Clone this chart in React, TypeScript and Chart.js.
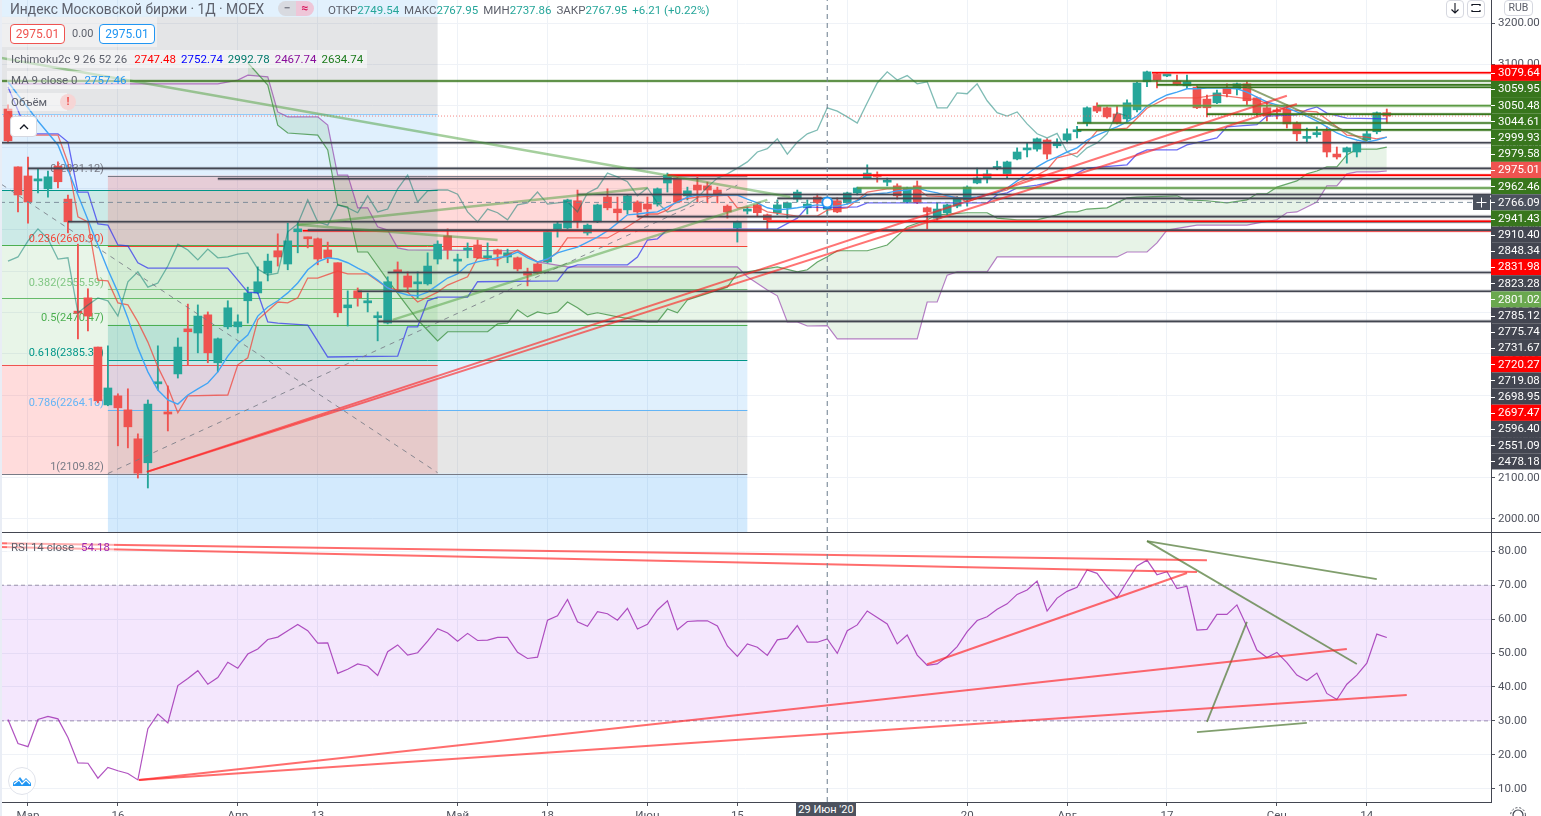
import React, { useEffect, useRef } from "react";
import { Chart, registerables } from "chart.js";

Chart.register(...registerables);

const FONT = "Roboto, sans-serif";
const XMIN = -0.8;
const XMAX = 148.43;

const opens = [2992,2852,2830,2818,2799,2854,2774,2503,2535,2416,2276,2298,2264,2194,2136,2327,2259,2351,2460,2450,2494,2378,2465,2465,2528,2547,2595,2649,2617,2695,2680,2678,2651,2620,2511,2552,2523,2487,2474,2603,2588,2569,2569,2629,2685,2624,2651,2663,2632,2651,2634,2632,2598,2617,2622,2702,2704,2770,2692,2719,2779,2750,2748,2767,2762,2762,2813,2825,2782,2808,2806,2796,2757,2704,2745,2760,2736,2741,2753,2774,2753,2779,2749.54,2770,2765,2789,2825,2832,2815,2806,2767,2806,2753,2728,2741,2757,2772,2813,2825,2848,2835,2871,2893,2895,2917,2903,2917,2937,2958,2999,2995,2980,2968,2990,3058,3077,3072,3060,3048,3045,3016,3007,3043,3041,3053,3019,2995,2987,2992,2958,2921,2930,2939,2883,2888,2888,2917,2937,2983];
const highs = [3002,2852,2876,2847,2842,2864,2784,2665,2557,2416,2419,2303,2315,2206,2288,2419,2322,2438,2520,2518,2501,2438,2528,2494,2561,2610,2641,2690,2716,2719,2682,2680,2670,2620,2552,2559,2547,2501,2586,2622,2598,2598,2644,2673,2702,2641,2668,2675,2668,2653,2653,2634,2607,2620,2697,2719,2774,2796,2714,2762,2799,2779,2784,2770,2779,2801,2837,2830,2803,2828,2815,2803,2760,2721,2755,2762,2738,2772,2767,2796,2772,2786,2767.95,2777,2791,2803,2857,2840,2825,2811,2803,2818,2755,2765,2762,2780,2806,2849,2845,2866,2866,2898,2910,2922,2920,2920,2944,2950,2997,3007,2997,2999,3014,3057,3084,3079,3075,3074,3074,3048,3026,3038,3053,3055,3058,3021,3009,2995,3002,2961,2946,2949,2949,2900,2900,2912,2939,2985,2992];
const lows = [2910,2743,2716,2789,2779,2801,2692,2436,2455,2281,2274,2177,2172,2099,2075,2312,2213,2341,2373,2402,2378,2356,2460,2450,2474,2545,2576,2612,2603,2644,2656,2615,2620,2489,2467,2515,2501,2431,2472,2554,2549,2535,2566,2617,2629,2598,2632,2630,2627,2612,2620,2600,2564,2593,2620,2682,2702,2704,2687,2717,2748,2721,2738,2731,2733,2757,2791,2765,2772,2767,2765,2765,2728,2670,2738,2733,2702,2736,2728,2767,2738,2745,2737.86,2741,2762,2784,2823,2815,2806,2774,2765,2763,2702,2723,2736,2753,2757,2811,2813,2845,2825,2869,2876,2890,2871,2898,2910,2922,2951,2983,2970,2956,2960,2985,3046,3043,3070,3050,3041,2993,2973,3005,3021,3026,3002,2975,2963,2968,2946,2915,2910,2924,2876,2871,2861,2876,2915,2932,2958];
const closes = [2915,2784,2767,2823,2828,2816,2719,2498,2491,2286,2317,2269,2223,2111,2278,2332,2254,2416,2453,2491,2402,2436,2511,2477,2547,2574,2624,2634,2673,2702,2678,2629,2632,2499,2518,2535,2528,2491,2574,2598,2561,2571,2612,2665,2651,2627,2653,2632,2634,2641,2644,2605,2590,2595,2695,2714,2772,2719,2711,2760,2753,2741,2782,2743,2750,2799,2832,2767,2794,2796,2796,2786,2743,2719,2750,2741,2724,2760,2765,2791,2762,2765,2767.95,2743,2789,2801,2837,2828,2816,2782,2801,2765,2743,2750,2760,2777,2803,2825,2835,2849,2864,2888,2896,2920,2883,2912,2932,2941,2995,2987,2973,2958,3007,3055,3082,3062,3073,3053,3058,2995,2995,3031,3029,3053,3012,2983,2975,2985,2956,2932,2922,2933,2888,2876,2898,2910,2932,2983,2975.01];

const maValues = [3058,3026,2995,2963,2934,2905,2845,2784,2724,2663,2603,2549,2486,2414,2356,2312,2288,2278,2300,2315,2329,2356,2394,2424,2445,2491,2513,2528,2547,2571,2603,2622,2632,2629,2620,2607,2595,2578,2559,2549,2542,2540,2549,2566,2583,2593,2615,2622,2627,2632,2636,2646,2632,2622,2629,2644,2651,2658,2670,2682,2697,2716,2736,2738,2741,2743,2755,2767,2779,2784,2784,2784,2784,2784,2774,2765,2753,2748,2750,2753,2757,2760,2757.46,2757,2762,2770,2784,2787,2789,2794,2796,2801,2794,2789,2782,2777,2777,2779,2784,2789,2801,2818,2835,2852,2866,2876,2888,2898,2917,2929,2939,2949,2961,2975,2999,3014,3026,3033,3041,3041,3043,3043,3043,3041,3033,3021,3009,3002,2995,2985,2975,2963,2949,2934,2924,2917,2912,2917,2924];

const tenkanBars = [0,2,5,6,7,8,9,10,11,12,13,14,15,16,17,18,22,23,24,25,27,28,29,30,31,33,34,36,38,40,41,43,44,46,47,49,51,53,54,55,56,60,62,64,65,66,67,69,72,73,75,76,79,81,82,84,85,86,88,91,92,95,96,98,100,101,103,104,105,107,108,109,112,114,116,119,121,125,128,131,133,134,136,137,138];
const tenkanValues = [2985,2929,2929,2862,2731,2719,2578,2576,2523,2518,2477,2428,2368,2319,2257,2298,2300,2373,2390,2482,2525,2523,2535,2583,2583,2600,2593,2593,2559,2549,2525,2549,2566,2586,2632,2627,2651,2622,2627,2646,2680,2680,2707,2738,2738,2748,2772,2779,2784,2753,2755,2743,2733,2733,2747.48,2753,2772,2791,2799,2799,2782,2779,2767,2784,2796,2813,2832,2845,2874,2886,2910,2939,2946,2994,3019,3019,3026,3014,2990,2985,2949,2929,2924,2920,2924];

const kijunBars = [0,2,5,6,7,8,9,10,11,12,13,14,22,24,25,26,27,30,32,39,40,41,42,43,46,47,55,56,57,62,63,64,65,66,77,79,80,82,85,86,98,99,100,101,103,104,106,108,112,113,114,117,118,121,122,125,126,129,130,131,132,134,138];
const kijunValues = [3045,2932,2932,2912,2791,2791,2714,2711,2663,2661,2620,2607,2607,2549,2547,2477,2474,2469,2392,2394,2465,2465,2528,2537,2537,2574,2576,2607,2615,2615,2634,2675,2678,2700,2702,2728,2755,2752.74,2755,2765,2765,2784,2789,2801,2808,2813,2825,2849,2857,2883,2893,2893,2905,2922,2949,2954,2975,2978,2990,2997,2982,2970,2968];

const spanABars = [24,26,27,28,31,32,33,34,35,36,38,41,43,44,48,49,50,51,52,53,54,55,56,57,58,59,61,63,64,65,66,67,68,72,73,74,77,79,80,81,82,83,86,88,90,92,93,96,98,99,101,103,105,106,107,108,110,112,113,117,118,120,122,124,125,126,127,129,130,131,132,133,134,135,137,138];
const spanAValues = [3104,3050,2953,2934,2929,2893,2760,2755,2646,2646,2578,2482,2431,2453,2453,2472,2474,2506,2489,2501,2496,2501,2525,2511,2494,2499,2489,2482,2477,2477,2508,2499,2530,2561,2595,2598,2610,2598,2603,2622,2634.74,2649,2649,2663,2707,2724,2736,2741,2741,2728,2724,2724,2736,2743,2743,2750,2753,2777,2779,2782,2772,2770,2765,2772,2787,2787,2803,2818,2835,2842,2852,2852,2881,2895,2895,2900];

const spanBBars = [0,21,23,24,26,27,28,31,32,33,34,35,36,37,38,39,40,51,53,56,73,74,76,77,78,79,80,82,83,91,92,93,94,95,98,99,111,112,114,115,116,119,124,125,127,128,129,131,132,133,134,135,137,138];
const spanBValues = [3053,3053,3062,3074,3070,2985,2973,2973,2953,2832,2832,2753,2753,2707,2699,2656,2651,2649,2622,2610,2610,2586,2554,2540,2477,2477,2467,2467.74,2436,2436,2525,2525,2590,2598,2598,2634,2634,2646,2646,2668,2699,2711,2711,2716,2724,2741,2743,2767,2806,2806,2835,2840,2840,2842];

const rsiValues = [30.4,23.3,22.4,30.4,31.3,30.6,25.1,17.6,17.5,13.1,16.3,15.3,14.5,12.6,27.7,32.0,29.4,40.4,42.5,44.8,40.8,42.8,47.3,45.5,49.7,51.2,54.0,54.7,56.6,58.4,56.6,52.9,53.0,44.0,45.2,46.8,46.1,43.4,50.4,52.4,49.4,50.1,53.5,57.2,55.9,53.5,55.8,53.7,53.8,54.6,54.6,50.2,48.4,48.8,59.7,61.0,65.8,59.2,57.9,62.2,61.6,59.7,63.2,57.1,58.5,62.7,65.4,56.9,59.3,59.5,59.5,58.0,52.1,49.0,52.7,51.7,49.3,53.9,54.4,58.1,53.2,53.2,54.18,49.9,56.6,58.3,62.4,60.5,58.6,52.7,55.3,49.4,46.4,46.8,49.0,51.9,56.3,59.6,60.7,62.9,64.5,67.3,68.6,71.2,62.4,66.2,68.2,69.4,74.5,73.5,69.6,66.3,71.1,75.7,77.4,73.1,74.0,69.0,69.7,56.8,57.0,61.4,61.4,64.2,57.8,50.9,48.7,50.2,47.2,43.5,41.9,44.1,38.1,36.3,40.8,43.5,47.0,55.6,54.6];

const tickBars = [2,11,23,31,45,54,64,73,84,96,106,116,127,136];
const tickLabels = ["Мар","16","Апр","13","Май","18","Июн","15","","20","Авг","17","Сен","14"];

// horizontal drawings: price, first bar, colour group
const levelPrices = [3079.64,3059.95,3050.48,3044.61,2999.93,2979.58,2958,2941.43,2910.4,2848.34,2831.98,2823.28,2801.02,2785.12,2775.74,2731.67,2720.27,2719.08,2698.95,2697.47,2596.4,2551.09,2478.18];
const levelStarts = [114.5,-0.8,115,119,109,120,107,107,-0.8,2,66,21,85,57,77,63,76,6,30,29.5,38,35,37];
const levelKinds = ["red","green","green","green","lime","green","green","green","dark","dark","red","dark","lime","dark","dark","dark","red","dark","dark","red","dark","dark","dark"];

const badgeTexts = ["3079.64","3059.95","3050.48","3044.61","2999.93","2979.58","2975.01","2962.46","2766.09","2941.43","2910.40","2848.34","2831.98","2823.28","2801.02","2785.12","2775.74","2731.67","2720.27","2719.08","2698.95","2697.47","2596.40","2551.09","2478.18"];
const badgeKinds = ["red","green","green","green","green","green","last","green","cross","green","dark","dark","red","dark","lime","dark","dark","dark","red","dark","dark","red","dark","dark","dark"];

// [bar, price, bar, price]
const redTrends = [[13.9,2114,128,3024],[13.9,2114,129,3004]];
const greenTrends = [[-0.8,3116,78.3,2779],[29,2712,49,2675],[29,2712,64,2801],[38.5,2482,76,2772]];
const oliveTrends = [[124,3045,136,2915]];
const dashedTrends = [[-0.6,2809,43,2112],[10,2110,73,2808]];

const rsiRedTrends = [[-0.8,82.4,120,77.4],[-0.8,81.3,119,73.9],[13.1,12.6,134,51.2],[13.1,12.6,140,37.6],[92,46.7,118,73.6]];
const rsiGreenTrends = [[114,83,137,71.8],[114,83,135,46.8],[120,29.7,124,59.2],[119,26.7,130,29.4]];

// fib retracement on the right, drawn between bars 10 and 74
const fibPrices = [2831.12,2660.9,2555.59,2470.47,2385.35,2264.18,2109.82];
const fibTexts = ["0(2831.12)","0.236(2660.90)","0.382(2555.59)","0.5(2470.47)","0.618(2385.35)","0.786(2264.18)","1(2109.82)"];
const fibColors = ["#787b86","#f44336","#81c784","#4caf50","#009688","#64b5f6","#787b86"];
const fibFills = ["rgba(255,82,82,0.22)","rgba(76,175,80,0.13)","rgba(76,175,80,0.13)","rgba(0,150,136,0.2)","rgba(33,150,243,0.14)","rgba(128,128,128,0.2)"];
const fibBelowPrice = 1968.5;
const fibBelowFill = "rgba(33,150,243,0.2)";

// second fib on the left, bars -0.6 to 43
const leftPrices = [3256,3215,2980,2796,2663,2373,2109];
const leftFills = ["rgba(33,150,243,0.13)","rgba(120,123,134,0.2)","rgba(33,150,243,0.14)","rgba(0,150,136,0.2)","rgba(76,175,80,0.13)","rgba(255,82,82,0.2)"];
const leftLinePrices = [2980,2796,2663,2535,2373,2109];
const leftLineColors = ["#90caf9","#009688","#4caf50","#66bb6a","#ef5350","#787b86"];

const zip = (xs: number[], ys: number[]) => xs.map((x, i) => ({ x, y: ys[i] }));
const allBars = closes.map((_, i) => i);

const line = (data: any[], color: string, width = 1, extra: any = {}) => ({
  type: "line", data, borderColor: color, borderWidth: width, pointRadius: 0, tension: 0, fill: false, order: 5, ...extra,
});
const seg = (t: number[], color: string, width: number, extra: any = {}) =>
  line([{ x: t[0], y: t[1] }, { x: t[2], y: t[3] }], color, width, extra);

const levelCore: Record<string, string> = { red: "#ff0000", green: "#38761d", lime: "#5c9a44", dark: "#434651" };
const levelHalo: Record<string, string> = { red: "rgba(255,120,120,0.35)", green: "rgba(56,118,29,0.2)", lime: "rgba(106,168,79,0.35)", dark: "rgba(67,70,81,0.22)" };
const badgeFill: Record<string, string> = { red: "#ff0000", green: "#38761d", lime: "#6aa84f", dark: "#434651", last: "#ef5350", cross: "#4c525e" };

const noPad = (s: any) => { s.paddingTop = 0; s.paddingBottom = 0; s.paddingLeft = 0; s.paddingRight = 0; };

const xScaleBase = {
  type: "linear", min: XMIN, max: XMAX, offset: false,
  afterBuildTicks: (s: any) => { s.ticks = tickBars.map((value) => ({ value })); },
};

const pricePlugin = {
  id: "priceDrawings",
  beforeDatasetsDraw(chart: any) {
    const { ctx, scales: { x, y } } = chart;
    ctx.save();
    const rect = (b0: number, b1: number, p0: number, p1: number, c: string) => {
      ctx.fillStyle = c;
      ctx.fillRect(x.getPixelForValue(b0), y.getPixelForValue(p0), x.getPixelForValue(b1) - x.getPixelForValue(b0), y.getPixelForValue(p1) - y.getPixelForValue(p0));
    };
    leftFills.forEach((c, i) => rect(-0.6, 43, leftPrices[i], leftPrices[i + 1], c));
    fibFills.forEach((c, i) => rect(10, 74, fibPrices[i], fibPrices[i + 1], c));
    rect(10, 74, fibPrices[6], fibBelowPrice, fibBelowFill);
    const hline = (b0: number, b1: number, p: number, c: string) => {
      ctx.strokeStyle = c; ctx.lineWidth = 1; ctx.beginPath();
      const py = Math.round(y.getPixelForValue(p)) + 0.5;
      ctx.moveTo(x.getPixelForValue(b0), py); ctx.lineTo(x.getPixelForValue(b1), py); ctx.stroke();
    };
    leftLinePrices.forEach((p, i) => hline(-0.6, 43, p, leftLineColors[i]));
    fibPrices.forEach((p, i) => hline(10, 74, p, fibColors[i]));
    ctx.font = `11px ${FONT}`; ctx.textAlign = "right"; ctx.textBaseline = "bottom";
    fibPrices.forEach((p, i) => {
      ctx.fillStyle = fibColors[i];
      ctx.fillText(fibTexts[i], x.getPixelForValue(9.6), y.getPixelForValue(p) - 1);
    });
    ctx.restore();
  },
  afterDraw(chart: any) {
    const { ctx, scales: { y } } = chart;
    const axisX = y.left;
    const first = y.getPixelForValue(3079.64);
    const rowH = 16.19;
    ctx.save();
    ctx.font = `11.5px ${FONT}`; ctx.textBaseline = "middle"; ctx.textAlign = "left";
    badgeTexts.forEach((t, i) => {
      const cy = first + i * rowH;
      ctx.fillStyle = badgeFill[badgeKinds[i]];
      ctx.fillRect(axisX, cy - rowH / 2, 1541 - axisX, rowH);
      ctx.fillStyle = "#ffffff";
      ctx.fillRect(axisX, Math.round(cy), 4, 1);
      ctx.fillText(t, axisX + 7, cy + 0.5);
    });
    ctx.restore();
  },
};

const priceDatasets = () => {
  const ds: any[] = [];
  ds.push(line(zip(spanABars, spanAValues), "rgba(56,142,60,0.75)", 1.2, {
    order: 30, fill: { target: "+1", above: "rgba(67,160,71,0.13)", below: "rgba(67,160,71,0.13)" },
  }));
  ds.push(line(zip(spanBBars, spanBValues), "rgba(142,36,170,0.6)", 1.2, { order: 30 }));
  ds.push({
    type: "bar", grouped: false, order: 20, barThickness: 1.2,
    data: allBars.map((i) => ({ x: i, y: [lows[i], highs[i]] })),
    backgroundColor: allBars.map((i) => (closes[i] >= opens[i] ? "#26a69a" : "#ef5350")),
  });
  ds.push({
    type: "bar", grouped: false, order: 19, barThickness: 8, minBarLength: 2, borderSkipped: false,
    data: allBars.map((i) => ({ x: i, y: [opens[i], closes[i]] })),
    backgroundColor: allBars.map((i) => (closes[i] >= opens[i] ? "#26a69a" : "#ef5350")),
  });
  ds.push(line(closes.slice(26).map((y, x) => ({ x, y })), "rgba(0,121,107,0.5)", 1.3, { order: 15 }));
  ds.push(line(zip(kijunBars, kijunValues), "rgba(50,50,240,0.72)", 1.3, { order: 14 }));
  ds.push(line(zip(tenkanBars, tenkanValues), "rgba(240,70,60,0.75)", 1.3, { order: 13 }));
  ds.push(line(zip(allBars, maValues), "#42a5f5", 1.4, { order: 12 }));
  dashedTrends.forEach((t) => ds.push(seg(t, "rgba(120,123,134,0.85)", 1, { order: 11, borderDash: [5, 5] })));
  ds.push(line([{ x: XMIN, y: 2975.01 }, { x: XMAX, y: 2975.01 }], "rgba(239,83,80,0.7)", 1, { order: 11, borderDash: [1, 2] }));
  levelPrices.forEach((p, i) => {
    const pts = [{ x: levelStarts[i], y: p }, { x: XMAX, y: p }];
    ds.push(line(pts, levelHalo[levelKinds[i]], 3.5, { order: 10 }));
    ds.push(line(pts, levelCore[levelKinds[i]], 1.6, { order: 9 }));
  });
  greenTrends.forEach((t) => ds.push(seg(t, "rgba(76,160,60,0.5)", 2.4, { order: 8 })));
  oliveTrends.forEach((t) => ds.push(seg(t, "rgba(95,125,55,0.7)", 2, { order: 8 })));
  redTrends.forEach((t) => ds.push(seg(t, "rgba(255,30,30,0.62)", 2, { order: 7 })));
  ds.push(line([{ x: XMIN, y: 2766.09 }, { x: XMAX, y: 2766.09 }], "rgba(117,134,150,0.9)", 1, { order: 6, borderDash: [5, 4] }));
  ds.push(line([{ x: 82, y: 1968.5 }, { x: 82, y: 3255.8 }], "rgba(117,134,150,0.9)", 1.2, { order: 6, borderDash: [5, 4] }));
  ds.push({
    type: "line", order: 1, showLine: false, data: [{ x: 82, y: 2766.09 }],
    pointRadius: 5, pointBackgroundColor: "#ffffff", pointBorderColor: "#2196f3", pointBorderWidth: 2,
  });
  return ds;
};

const rsiDatasets = () => {
  const ds: any[] = [];
  ds.push(line([{ x: XMIN, y: 70 }, { x: XMAX, y: 70 }], "rgba(120,110,140,0.7)", 1, {
    order: 30, borderDash: [4, 3], fill: { target: "+1", above: "rgba(156,39,240,0.11)", below: "rgba(156,39,240,0.11)" },
  }));
  ds.push(line([{ x: XMIN, y: 30 }, { x: XMAX, y: 30 }], "rgba(120,110,140,0.7)", 1, { order: 30, borderDash: [4, 3] }));
  ds.push(line(zip(allBars, rsiValues), "rgba(156,39,176,0.8)", 1.2, { order: 10 }));
  rsiRedTrends.forEach((t) => ds.push(seg(t, "rgba(255,30,30,0.65)", 2, { order: 8 })));
  rsiGreenTrends.forEach((t) => ds.push(seg(t, "rgba(85,125,60,0.75)", 1.8, { order: 8 })));
  ds.push(line([{ x: 82, y: 6.08 }, { x: 82, y: 85.4 }], "rgba(117,134,150,0.9)", 1.2, { order: 6, borderDash: [5, 4] }));
  return ds;
};

const yTicks = { color: "#50535e", font: { family: FONT, size: 11.5 }, padding: 3, autoSkip: false, includeBounds: false };

export default function App() {
  const topRef = useRef<HTMLCanvasElement>(null);
  const botRef = useRef<HTMLCanvasElement>(null);

  useEffect(() => {
    const common = {
      responsive: false, animation: false, events: [],
      layout: { padding: 0, autoPadding: false },
      plugins: { legend: { display: false }, tooltip: { enabled: false } },
    };
    const top = new Chart(topRef.current as any, {
      type: "line",
      data: { datasets: priceDatasets() },
      options: {
        ...common,
        scales: {
          x: {
            ...xScaleBase,
            afterFit: (s: any) => { s.height = 0; noPad(s); },
            ticks: { display: false },
            grid: { color: "#eef2f7", drawTicks: false, offset: false },
            border: { display: false },
          },
          y: {
            position: "right", min: 1968.5, max: 3255.8, beginAtZero: false,
            afterFit: (s: any) => { s.width = 50; noPad(s); },
            ticks: { ...yTicks, stepSize: 100, callback: (v: any) => Number(v).toFixed(2) },
            grid: { color: "#eff2f7", tickLength: 4, tickColor: "#50535e" },
            border: { color: "#434651" },
          },
        },
      },
      plugins: [pricePlugin],
    } as any);
    const bot = new Chart(botRef.current as any, {
      type: "line",
      data: { datasets: rsiDatasets() },
      options: {
        ...common,
        scales: {
          x: {
            ...xScaleBase,
            afterFit: (s: any) => { s.height = 14; noPad(s); },
            ticks: {
              color: "#50535e", font: { family: FONT, size: 11.5 }, padding: 3, autoSkip: false, maxRotation: 0,
              callback: (v: any) => tickLabels[tickBars.indexOf(v)] ?? "",
            },
            grid: { color: "#eef2f7", tickLength: 4, tickColor: "#50535e", offset: false },
            border: { color: "#434651" },
          },
          y: {
            position: "right", min: 6.08, max: 85.4, beginAtZero: false,
            afterFit: (s: any) => { s.width = 50; noPad(s); },
            ticks: { ...yTicks, stepSize: 10, callback: (v: any) => Number(v).toFixed(2) },
            grid: { color: "#eff2f7", tickLength: 4, tickColor: "#50535e" },
            border: { color: "#434651" },
          },
        },
      },
    } as any);
    return () => { top.destroy(); bot.destroy(); };
  }, []);

  const txt: React.CSSProperties = { position: "absolute", font: `11.5px ${FONT}`, color: "#5d606b", whiteSpace: "nowrap", lineHeight: "16px" };
  const val = (c: string, s: string, ml = 0) => <span style={{ color: c, marginLeft: ml }}>{s}</span>;
  const btn: React.CSSProperties = { position: "absolute", background: "#fff", border: "1px solid #d6d8e0", borderRadius: 4, boxSizing: "border-box", textAlign: "center", color: "#434651", font: `12px ${FONT}` };

  return (
    <div style={{ position: "absolute", left: 0, top: 0, width: 1541, height: 816, overflow: "hidden", background: "#fff" }}>
      <style>{"html,body{margin:0;padding:0;overflow:hidden;background:#fff}"}</style>
      <canvas ref={topRef} width={1541} height={532} style={{ position: "absolute", left: 0, top: 0, filter: "blur(0.35px)" }} />
      <canvas ref={botRef} width={1541} height={283} style={{ position: "absolute", left: 0, top: 533, filter: "blur(0.35px)" }} />
      <div style={{ position: "absolute", left: 0, top: 532, width: 1541, height: 1, background: "#434651" }} />
      <div style={{ position: "absolute", left: 0, top: 0, width: 2, height: 816, background: "#e9edf5" }} />

      <div style={{ ...txt, left: 10, top: 1, font: `13.8px ${FONT}`, lineHeight: "17px" }}>Индекс Московской биржи · 1Д · MOEX</div>
      <div style={{ position: "absolute", left: 278, top: 1, width: 18, height: 15, background: "#d8dae0", borderRadius: "8px 0 0 8px", textAlign: "center", font: `bold 12px ${FONT}`, color: "#787b86", lineHeight: "14px" }}>−</div>
      <div style={{ position: "absolute", left: 296, top: 1, width: 18, height: 15, background: "#eec6d8", borderRadius: "0 8px 8px 0", textAlign: "center", font: `bold 12px ${FONT}`, color: "#d81b60", lineHeight: "14px" }}>≈</div>
      <div style={{ ...txt, left: 328, top: 2 }}>
        ОТКР{val("#26a69a", "2749.54")}<span style={{ marginLeft: 5 }}>МАКС</span>{val("#26a69a", "2767.95")}<span style={{ marginLeft: 5 }}>МИН</span>{val("#26a69a", "2737.86")}<span style={{ marginLeft: 5 }}>ЗАКР</span>{val("#26a69a", "2767.95")}{val("#26a69a", "+6.21 (+0.22%)", 5)}
      </div>

      <div style={{ position: "absolute", left: 2, top: 17, width: 155, height: 30, background: "rgba(255,255,255,0.4)" }} />
      <div style={{ ...btn, left: 10, top: 24, width: 55, height: 20, border: "1px solid #ef5350", color: "#ef5350", lineHeight: "18px" }}>2975.01</div>
      <div style={{ ...txt, left: 72, top: 26, fontSize: 11 }}>0.00</div>
      <div style={{ ...btn, left: 99, top: 24, width: 56, height: 20, border: "1px solid #2196f3", color: "#2196f3", lineHeight: "18px" }}>2975.01</div>

      <div style={{ ...txt, left: 7, top: 50, padding: "1px 4px", background: "rgba(255,255,255,0.5)" }}>
        Ichimoku2c 9 26 52 26{val("#ff0000", "2747.48", 7)}{val("#0000ff", "2752.74", 5)}{val("#00796b", "2992.78", 5)}{val("#880e9b", "2467.74", 5)}{val("#1b7a1b", "2634.74", 5)}
      </div>
      <div style={{ ...txt, left: 7, top: 71, padding: "1px 4px", background: "rgba(255,255,255,0.5)" }}>
        MA 9 close 0{val("#2196f3", "2757.46", 7)}
      </div>
      <div style={{ ...txt, left: 7, top: 93, padding: "1px 20px 1px 4px", background: "rgba(255,255,255,0.5)" }}>Объём</div>
      <div style={{ position: "absolute", left: 60, top: 94, width: 16, height: 16, borderRadius: 8, background: "#f6d5d5", color: "#ef5350", textAlign: "center", font: `bold 11px ${FONT}`, lineHeight: "16px" }}>!</div>
      <div style={{ ...btn, left: 10, top: 116, width: 27, height: 21, lineHeight: "20px" }}>
        <svg width="12" height="8" viewBox="0 0 12 8"><path d="M2 6 L6 2 L10 6" fill="none" stroke="#131722" strokeWidth="1.3" /></svg>
      </div>

      <div style={{ ...btn, left: 1446, top: 0, width: 18, height: 18 }}>
        <svg width="12" height="14" viewBox="0 0 12 14"><path d="M6 2 V12 M2.5 8.5 L6 12 L9.5 8.5" fill="none" stroke="#131722" strokeWidth="1.1" /></svg>
      </div>
      <div style={{ ...btn, left: 1467, top: 0, width: 18, height: 18 }}>
        <svg width="12" height="14" viewBox="0 0 12 14"><path d="M2 5 V3.5 H10 V5 M2 9 V10.5 H10 V9" fill="none" stroke="#131722" strokeWidth="1.2" /></svg>
      </div>
      <div style={{ ...btn, left: 1504, top: 0, width: 29, height: 16, color: "#5d606b", font: `10.5px ${FONT}`, lineHeight: "14px" }}>RUB</div>

      <div style={{ position: "absolute", left: 1473, top: 195, width: 17, height: 15, background: "#4c525e" }}>
        <svg width="17" height="15" viewBox="0 0 17 15"><path d="M8.5 2.5 V12.5 M3.5 7.5 H13.5" stroke="#fff" strokeWidth="1" /></svg>
      </div>

      <div style={{ ...txt, left: 7, top: 539, padding: "0 4px", background: "rgba(255,255,255,0.45)", fontSize: 11.5 }}>
        RSI 14 close{val("#9c27b0", "54.18", 7)}
      </div>

      <div style={{ position: "absolute", left: 8, top: 767, width: 28, height: 28, borderRadius: 14, background: "#fff", border: "1px solid #e0e3eb", boxSizing: "border-box" }}>
        <svg width="26" height="26" viewBox="0 0 26 26"><path d="M4 18 L4 15 Q6 12 8 13 L11 9 L14 13 L17 10 L22 15 L22 18 Z" fill="#2196f3" /><path d="M5 16 L10 12 L13 16 L17 12 L21 16" fill="none" stroke="#fff" strokeWidth="1.2" /></svg>
      </div>

      <div style={{ position: "absolute", left: 796, top: 802, width: 60, height: 14, background: "#4c525e", color: "#fff", font: `11px ${FONT}`, textAlign: "center", lineHeight: "15px" }}>29 Июн '20</div>
      <svg style={{ position: "absolute", left: 1509, top: 806 }} width="18" height="18" viewBox="0 0 18 18"><circle cx="9" cy="9" r="5" fill="none" stroke="#434651" strokeWidth="1.2" /><circle cx="9" cy="9" r="7.4" fill="none" stroke="#434651" strokeWidth="1" strokeDasharray="2 2" /></svg>
    </div>
  );
}
